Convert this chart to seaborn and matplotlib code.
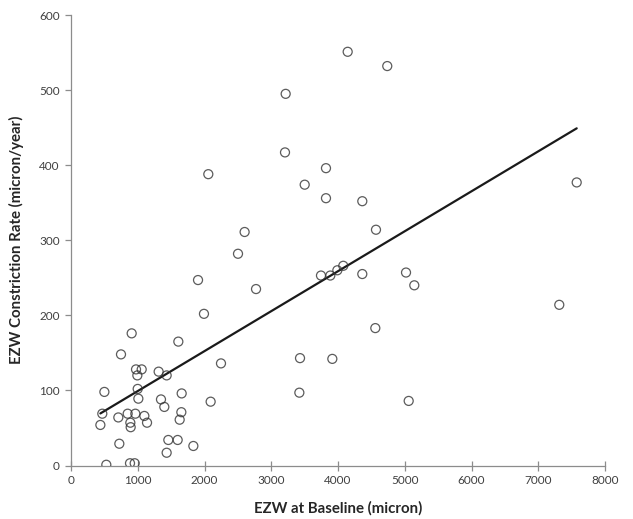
import numpy as np
import pandas as pd
import matplotlib
matplotlib.use("Agg")
import matplotlib.pyplot as plt
import seaborn as sns

# Data
ezw_baseline = [1992, 909, 1608, 749, 2247, 974, 1059, 1313, 994, 1433,
                500, 999, 1009, 1658, 1348, 1398, 2092, 469, 709, 849,
                964, 1099, 1653, 1628, 440, 889, 894, 1139, 724, 1458,
                1598, 1433, 1833, 529, 884, 954, 3206, 2057, 3820, 3501,
                3820, 2601, 2502, 1903, 2772, 3745, 3885, 3990, 4079, 4145,
                4738, 3216, 4364, 4569, 7576, 4364, 5019, 5143, 7315, 4559,
                3431, 3915, 3421, 5059]
constriction_rate = [202, 176, 165, 148, 136, 128, 128, 125, 120, 120,
                     98, 102, 89, 96, 88, 78, 85, 69, 64, 69,
                     69, 66, 71, 61, 54, 57, 51, 57, 29, 34,
                     34, 17, 26, 1, 3, 3, 417, 388, 396, 374,
                     356, 311, 282, 247, 235, 253, 253, 260, 266, 551,
                     532, 495, 352, 314, 377, 255, 257, 240, 214, 183,
                     143, 142, 97, 86]
x_ticks = [0, 1000, 2000, 3000, 4000, 5000, 6000, 7000, 8000]
y_ticks = [0, 100, 200, 300, 400, 500, 600]

df = pd.DataFrame({"x": ezw_baseline, "y": constriction_rate})

sns.set_theme(style="white")
plt.rcParams["font.family"] = ["Lato", "DejaVu Sans"]

fig = plt.figure(figsize=(6.33, 5.19), dpi=100)
ax = fig.add_axes([71 / 633, 1 - 465.5 / 519, (605 - 71) / 633, (465.5 - 15) / 519])

sns.regplot(data=df, x="x", y="y", ax=ax, ci=None, truncate=True,
            scatter_kws=dict(s=42, facecolors="none", edgecolors="#333333",
                             linewidths=0.9, zorder=3),
            line_kws=dict(color="#1a1a1a", lw=1.6, zorder=2))

ax.set_xlim(0, 8000)
ax.set_ylim(0, 600)
ax.set_xticks(x_ticks)
ax.set_yticks(y_ticks)
ax.set_xlabel("EZW at Baseline (micron)", fontsize=10.8, fontweight="bold",
              color="#262626", labelpad=11)
ax.set_ylabel("EZW Constriction Rate (micron/year)", fontsize=10.8,
              fontweight="bold", color="#262626", labelpad=11)

for side in ["top", "right"]:
    ax.spines[side].set_visible(False)
for side in ["left", "bottom"]:
    ax.spines[side].set_color("#8c8c8c")
    ax.spines[side].set_linewidth(0.9)
ax.tick_params(axis="x", direction="inout", length=7, width=0.9,
               color="#8c8c8c", labelsize=8.5, labelcolor="#404040", pad=3)
ax.tick_params(axis="y", direction="out", length=4, width=0.9,
               color="#8c8c8c", labelsize=8.5, labelcolor="#404040", pad=4)
ax.tick_params(bottom=True, left=True)

fig.savefig("out.png", dpi=100)
